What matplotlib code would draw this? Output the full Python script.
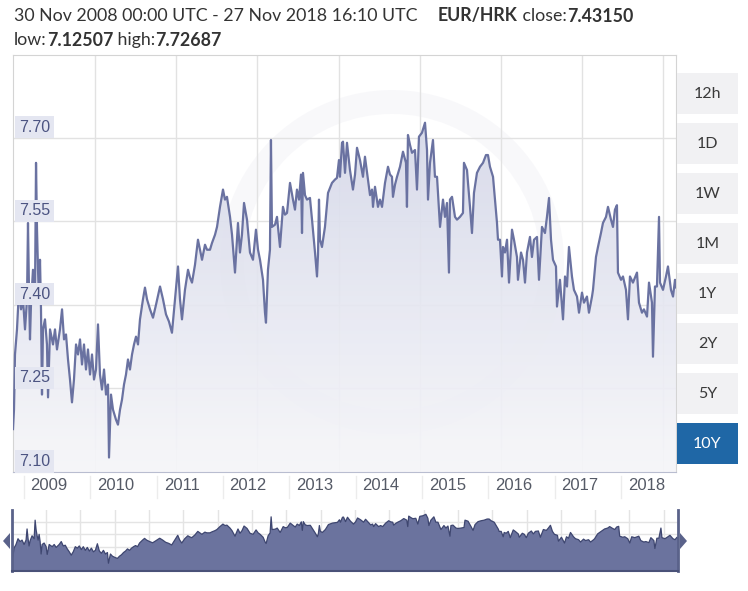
import matplotlib

matplotlib.use("Agg")
import matplotlib.pyplot as plt
import numpy as np
from matplotlib.colors import LinearSegmentedColormap
from matplotlib.patches import Polygon, Rectangle, Wedge
from matplotlib.transforms import blended_transform_factory

plt.rcParams["font.family"] = ["Lato", "DejaVu Sans"]

# EUR/HRK, 30 Nov 2008 - 27 Nov 2018 (decimal years)
years = [
    2008.915, 2008.930, 2008.945, 2008.975, 2009.005, 2009.036, 2009.066, 2009.096,
    2009.126, 2009.141, 2009.156, 2009.171, 2009.186, 2009.216, 2009.247, 2009.262,
    2009.277, 2009.292, 2009.307, 2009.322, 2009.337, 2009.352, 2009.367, 2009.397,
    2009.427, 2009.443, 2009.473, 2009.518, 2009.548, 2009.578, 2009.623, 2009.654,
    2009.684, 2009.714, 2009.744, 2009.774, 2009.804, 2009.834, 2009.865, 2009.895,
    2009.925, 2009.955, 2009.985, 2010.015, 2010.045, 2010.076, 2010.106, 2010.136,
    2010.166, 2010.196, 2010.226, 2010.256, 2010.287, 2010.317, 2010.347, 2010.362,
    2010.392, 2010.422, 2010.467, 2010.497, 2010.528, 2010.558, 2010.588, 2010.618,
    2010.648, 2010.678, 2010.709, 2010.739, 2010.769, 2010.799, 2010.829, 2010.874,
    2010.904, 2010.935, 2010.980, 2011.025, 2011.070, 2011.131, 2011.176, 2011.221,
    2011.266, 2011.311, 2011.357, 2011.402, 2011.432, 2011.462, 2011.507, 2011.553,
    2011.583, 2011.613, 2011.658, 2011.703, 2011.764, 2011.809, 2011.839, 2011.884,
    2011.914, 2011.960, 2011.990, 2012.035, 2012.080, 2012.110, 2012.140, 2012.186,
    2012.216, 2012.261, 2012.306, 2012.336, 2012.366, 2012.397, 2012.442, 2012.487,
    2012.532, 2012.577, 2012.608, 2012.638, 2012.683, 2012.713, 2012.728, 2012.758,
    2012.788, 2012.803, 2012.818, 2012.864, 2012.894, 2012.939, 2012.984, 2013.014,
    2013.045, 2013.090, 2013.135, 2013.165, 2013.195, 2013.226, 2013.256, 2013.271,
    2013.286, 2013.316, 2013.346, 2013.391, 2013.422, 2013.467, 2013.497, 2013.512,
    2013.527, 2013.542, 2013.572, 2013.617, 2013.663, 2013.723, 2013.768, 2013.798,
    2013.828, 2013.843, 2013.874, 2013.889, 2013.919, 2013.949, 2013.994, 2014.039,
    2014.070, 2014.100, 2014.145, 2014.190, 2014.220, 2014.266, 2014.296, 2014.326,
    2014.341, 2014.371, 2014.416, 2014.446, 2014.477, 2014.522, 2014.567, 2014.597,
    2014.627, 2014.642, 2014.673, 2014.703, 2014.748, 2014.793, 2014.838, 2014.853,
    2014.868, 2014.899, 2014.929, 2014.974, 2015.004, 2015.034, 2015.079, 2015.125,
    2015.155, 2015.170, 2015.200, 2015.245, 2015.275, 2015.306, 2015.321, 2015.351,
    2015.396, 2015.426, 2015.456, 2015.486, 2015.501, 2015.532, 2015.577, 2015.607,
    2015.652, 2015.697, 2015.712, 2015.758, 2015.773, 2015.803, 2015.833, 2015.863,
    2015.908, 2015.954, 2015.999, 2016.044, 2016.074, 2016.104, 2016.150, 2016.180,
    2016.210, 2016.225, 2016.255, 2016.285, 2016.300, 2016.330, 2016.361, 2016.391,
    2016.436, 2016.466, 2016.511, 2016.526, 2016.572, 2016.602, 2016.632, 2016.662,
    2016.707, 2016.737, 2016.768, 2016.813, 2016.843, 2016.888, 2016.933, 2016.963,
    2016.994, 2017.024, 2017.054, 2017.099, 2017.114, 2017.159, 2017.205, 2017.235,
    2017.265, 2017.295, 2017.340, 2017.370, 2017.416, 2017.446, 2017.491, 2017.521,
    2017.566, 2017.596, 2017.642, 2017.657, 2017.702, 2017.732, 2017.777, 2017.807,
    2017.853, 2017.883, 2017.928, 2017.958, 2017.988, 2018.018, 2018.033, 2018.079,
    2018.109, 2018.154, 2018.184, 2018.214, 2018.259, 2018.320, 2018.350, 2018.395,
    2018.425, 2018.471, 2018.501, 2018.546, 2018.561, 2018.591, 2018.621, 2018.652,
    2018.667, 2018.712, 2018.757, 2018.787, 2018.832, 2018.863, 2018.893, 2018.908,
]
rates = [
    7.177, 7.212, 7.311, 7.356, 7.427, 7.392, 7.410, 7.356,
    7.410, 7.547, 7.427, 7.338, 7.400, 7.463, 7.427, 7.655,
    7.535, 7.463, 7.410, 7.481, 7.392, 7.239, 7.356, 7.374,
    7.329, 7.234, 7.356, 7.329, 7.356, 7.320, 7.356, 7.392,
    7.338, 7.347, 7.302, 7.266, 7.225, 7.266, 7.329, 7.311,
    7.338, 7.293, 7.329, 7.284, 7.320, 7.275, 7.311, 7.266,
    7.284, 7.365, 7.275, 7.248, 7.284, 7.239, 7.257, 7.126,
    7.239, 7.212, 7.194, 7.185, 7.212, 7.230, 7.257, 7.275,
    7.302, 7.284, 7.311, 7.329, 7.343, 7.329, 7.374, 7.410,
    7.431, 7.410, 7.392, 7.377, 7.400, 7.433, 7.410, 7.383,
    7.370, 7.350, 7.410, 7.469, 7.410, 7.374, 7.427, 7.463,
    7.449, 7.440, 7.472, 7.517, 7.481, 7.508, 7.499, 7.499,
    7.511, 7.526, 7.540, 7.576, 7.607, 7.589, 7.594, 7.558,
    7.526, 7.458, 7.547, 7.494, 7.526, 7.583, 7.553, 7.494,
    7.481, 7.535, 7.499, 7.481, 7.445, 7.386, 7.368, 7.463,
    7.499, 7.696, 7.540, 7.544, 7.558, 7.504, 7.576, 7.562,
    7.565, 7.619, 7.589, 7.571, 7.607, 7.589, 7.634, 7.529,
    7.637, 7.597, 7.589, 7.592, 7.553, 7.494, 7.451, 7.490,
    7.589, 7.517, 7.504, 7.540, 7.601, 7.619, 7.625, 7.628,
    7.660, 7.630, 7.691, 7.693, 7.637, 7.691, 7.642, 7.607,
    7.634, 7.682, 7.660, 7.630, 7.666, 7.625, 7.597, 7.607,
    7.576, 7.612, 7.576, 7.589, 7.576, 7.619, 7.648, 7.634,
    7.630, 7.594, 7.616, 7.630, 7.648, 7.675, 7.655, 7.576,
    7.705, 7.687, 7.673, 7.678, 7.607, 7.702, 7.709, 7.727,
    7.678, 7.589, 7.655, 7.696, 7.630, 7.630, 7.601, 7.540,
    7.589, 7.558, 7.583, 7.458, 7.589, 7.594, 7.558, 7.553,
    7.558, 7.565, 7.655, 7.642, 7.619, 7.576, 7.529, 7.601,
    7.637, 7.648, 7.655, 7.669, 7.669, 7.648, 7.630, 7.589,
    7.547, 7.517, 7.517, 7.451, 7.504, 7.494, 7.517, 7.440,
    7.535, 7.517, 7.486, 7.445, 7.494, 7.481, 7.440, 7.494,
    7.522, 7.486, 7.517, 7.522, 7.445, 7.540, 7.529, 7.558,
    7.592, 7.517, 7.481, 7.469, 7.397, 7.445, 7.374, 7.451,
    7.433, 7.504, 7.451, 7.427, 7.415, 7.386, 7.422, 7.404,
    7.415, 7.386, 7.415, 7.427, 7.486, 7.504, 7.529, 7.547,
    7.558, 7.576, 7.553, 7.540, 7.571, 7.579, 7.458, 7.445,
    7.451, 7.427, 7.374, 7.451, 7.440, 7.458, 7.404, 7.386,
    7.392, 7.379, 7.440, 7.404, 7.307, 7.433, 7.433, 7.558,
    7.440, 7.427, 7.451, 7.469, 7.427, 7.415, 7.445, 7.4315,
]

year_labels = list(range(2009, 2019))
y_ticks = [7.10, 7.25, 7.40, 7.55, 7.70]
range_buttons = ["12h", "1D", "1W", "1M", "1Y", "2Y", "5Y", "10Y"]
active_button = "10Y"

X0, X1 = 2008.915, 2018.908
Y0, Y1 = 7.10, 7.8486
LINE = "#6a72a1"

W, H = 748, 591
fig = plt.figure(figsize=(W / 100, H / 100), dpi=100)
renderer = fig.canvas.get_renderer()


def px_box(left, top, right, bottom):
    return [left / W, 1 - bottom / H, (right - left) / W, (bottom - top) / H]


def text_run(x_px, y_px, parts, **kw):
    # lay the pieces out one after another, like inline spans
    x = x_px
    for s, weight in parts:
        t = fig.text(x / W, 1 - y_px / H, s, fontweight=weight, **kw)
        x = t.get_window_extent(renderer).x1


# header
hdr = dict(fontsize=12.8, color="#333333", va="center")
text_run(14, 16, [("30 Nov 2008 00:00 UTC - 27 Nov 2018 16:10 UTC", "normal")], **hdr)
text_run(438, 16, [("EUR/HRK", "bold"), (" close:", "normal"), ("7.43150", "bold")], **hdr)
text_run(14, 40, [("low:", "normal"), ("7.12507", "bold"), (" high:", "normal"),
                  ("7.72687", "bold")], **hdr)

# main chart
ax = fig.add_axes(px_box(13, 55, 676, 472))
ax.set_xlim(X0, X1)
ax.set_ylim(Y0, Y1)
ax.set_xticks([])
ax.set_yticks([])
for side in ["top", "left", "right"]:
    ax.spines[side].set_color("#d4d4d4")
ax.spines["bottom"].set_color("#b9bdd0")

# faint watermark ring
ring = Wedge((3.92, (H - 262) / 100), 1.72, 0, 360, width=0.24,
             transform=fig.dpi_scale_trans, facecolor="#8088b0", alpha=0.05,
             edgecolor="none", zorder=0.5)
ax.add_patch(ring)
ring.set_clip_path(ax.patch)

v_grid = [2010.151, 2011.372, 2012.593, 2013.829, 2015.049, 2016.270, 2017.491, 2018.712]
for v in v_grid:
    ax.axvline(v, color="#e2e2e2", lw=1, zorder=1)
for t in y_ticks[1:]:
    ax.axhline(t, color="#e2e2e2", lw=1, zorder=1)

verts = [(years[0], Y0)] + list(zip(years, rates)) + [(years[-1], Y0)]
area = Polygon(verts, closed=True, facecolor="none", edgecolor="none")
ax.add_patch(area)
cmap = LinearSegmentedColormap.from_list("fade", ["#f6f6f9", "#d5d8e9"])
grad = np.linspace(1, 0, 256).reshape(-1, 1)
im = ax.imshow(grad, extent=[X0, X1, Y0, 7.73], aspect="auto", cmap=cmap,
               origin="upper", zorder=2, alpha=0.92)
im.set_clip_path(area)
ax.set_xlim(X0, X1)
ax.set_ylim(Y0, Y1)

ax.plot(years, rates, color=LINE, lw=1.6, zorder=3, solid_joinstyle="round")

lab_tr = blended_transform_factory(ax.transAxes, ax.transData)
for t in y_ticks:
    ax.annotate(f"{t:.2f}", xy=(0.0, t), xycoords=lab_tr, xytext=(6, 3),
                textcoords="offset pixels", ha="left", va="bottom",
                fontsize=11.5, family=["Liberation Sans", "DejaVu Sans"],
                color="#4c5482", zorder=4,
                bbox=dict(boxstyle="square,pad=0.22", fc="#e4e6f1", ec="none"))

# year labels below the chart
xl_tr = blended_transform_factory(ax.transData, fig.transFigure)
for yr in year_labels:
    ax.text(yr + 0.46, 1 - 486 / H, str(yr), transform=xl_tr, ha="center",
            va="center", fontsize=12, color="#555a66",
            family=["Liberation Sans", "DejaVu Sans"])
    ax.plot([yr + 0.08] * 2, [1 - 476 / H, 1 - 498 / H], transform=xl_tr,
            color="#ececec", lw=1, clip_on=False)

# range buttons
for i, name in enumerate(range_buttons):
    top = 73 + 50 * i
    on = name == active_button
    box = Rectangle((677 / W, 1 - (top + 41) / H), 61 / W, 41 / H,
                    transform=fig.transFigure,
                    facecolor="#1f67a6" if on else "#f1f1f3", edgecolor="none")
    fig.patches.append(box)
    fig.text(707.5 / W, 1 - (top + 21) / H, name, ha="center", va="center",
             fontsize=11.5, color="white" if on else "#3a3a3a")

# navigator
nav = fig.add_axes(px_box(12, 510, 678, 571))
nav.set_xlim(X0, X1)
nav.set_ylim(7.03, 7.78)
nav.set_xticks([])
nav.set_yticks([])
for gx in np.arange(X0 + 0.51, X1, 0.515):
    nav.axvline(gx, color="#e4e4e4", lw=1, zorder=0)
for gy in [7.325, 7.485, 7.632]:
    nav.axhline(gy, color="#e4e4e4", lw=1, zorder=0)
nav.fill_between(years, rates, 7.03, facecolor="#6b739e", edgecolor="none", zorder=1)
nav.plot(years, rates, color="#3e4670", lw=0.9, zorder=2)
nav.spines["top"].set_visible(False)
nav.spines["bottom"].set_color("#4a5278")
nav.spines["bottom"].set_linewidth(1.5)
for side in ["left", "right"]:
    nav.spines[side].set_color("#5a628a")
    nav.spines[side].set_linewidth(2)

for pts in ([(3, 541), (10, 533), (10, 549)], [(687, 541), (680, 533), (680, 549)]):
    fig.patches.append(Polygon([(x / W, 1 - y / H) for x, y in pts], closed=True,
                               transform=fig.transFigure, facecolor="#5a628a",
                               edgecolor="none"))

fig.savefig("out.png", dpi=100)
